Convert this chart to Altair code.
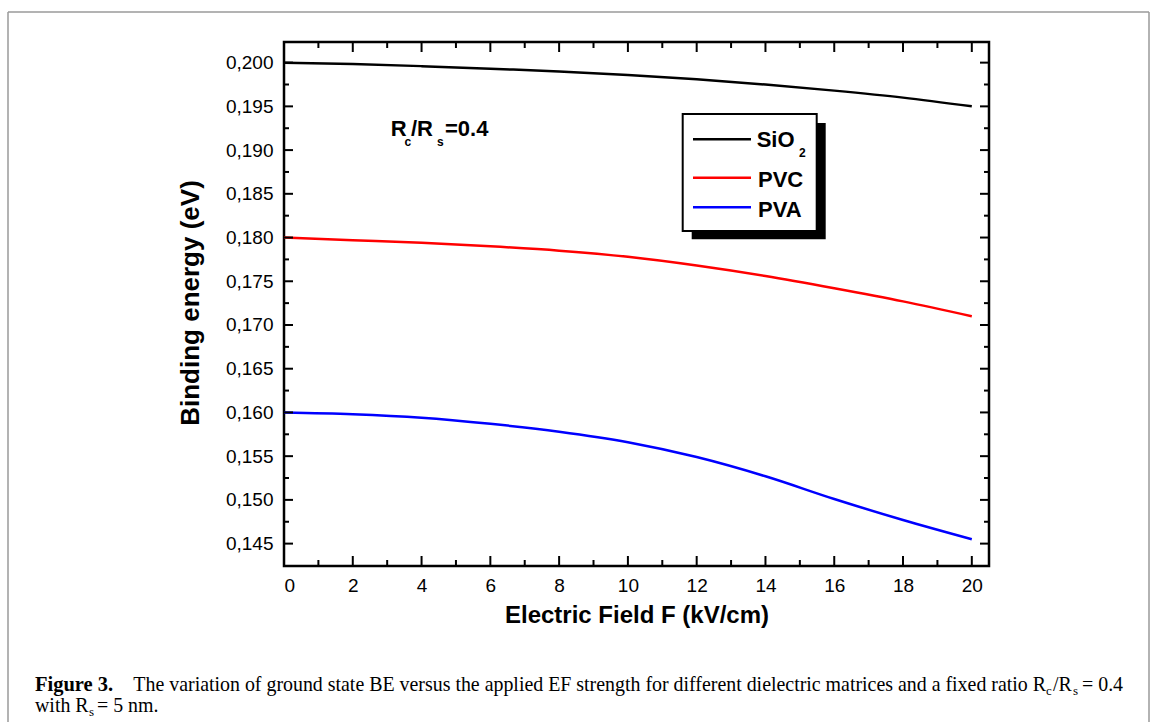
import altair as alt
import pandas as pd

# ---------------- data ----------------
field = [0, 2, 4, 6, 8, 10, 12, 14, 16, 18, 20]
sio2 = [0.2000, 0.19985, 0.1996, 0.1993, 0.1990, 0.1986, 0.1981, 0.1975, 0.1968, 0.1960, 0.1950]
pvc = [0.1800, 0.1797, 0.1794, 0.1790, 0.1785, 0.1778, 0.1768, 0.1756, 0.1742, 0.1727, 0.1710]
pva = [0.1600, 0.1598, 0.1594, 0.1587, 0.1578, 0.1566, 0.1549, 0.1527, 0.1501, 0.1477, 0.1455]
series_names = ["SiO2", "PVC", "PVA"]
colors = ["#000000", "#ff0000", "#0000ff"]

x_major = [0, 2, 4, 6, 8, 10, 12, 14, 16, 18, 20]
x_minor = [1, 3, 5, 7, 9, 11, 13, 15, 17, 19]
y_major = [0.145, 0.150, 0.155, 0.160, 0.165, 0.170, 0.175, 0.180, 0.185, 0.190, 0.195, 0.200]
y_minor = [0.1475, 0.1525, 0.1575, 0.1625, 0.1675, 0.1725, 0.1775, 0.1825, 0.1875, 0.1925, 0.1975]

rows = []
for name, vals in zip(series_names, [sio2, pvc, pva]):
    for f, v in zip(field, vals):
        rows.append({"F": f, "BE": v, "series": name})
df = pd.DataFrame(rows)

W, H = 705, 524
OX, OY = 284, 42
SANS = "Liberation Sans"
SERIF = "Liberation Serif"

xscale = alt.Scale(domain=[0, 20.5], nice=False, zero=False)
yscale = alt.Scale(domain=[0.14244, 0.20236], nice=False, zero=False)

xaxis = alt.Axis(
    values=x_major, format="d", title=None, grid=False, domain=False,
    ticks=False, tickSize=0, labelPadding=10, labelFont=SANS,
    labelFontSize=19, labelColor="black")
yaxis = alt.Axis(
    values=y_major, labelExpr="replace(format(datum.value, '.3f'), '.', ',')",
    title=None, grid=False, domain=False, ticks=False, tickSize=0,
    labelPadding=11, labelFont=SANS, labelFontSize=19, labelColor="black")

lines = alt.Chart(df).mark_line(strokeWidth=2.5, interpolate="monotone").encode(
    x=alt.X("F:Q", scale=xscale, axis=xaxis),
    y=alt.Y("BE:Q", scale=yscale, axis=yaxis),
    color=alt.Color("series:N", scale=alt.Scale(domain=series_names, range=colors), legend=None),
)

def yticks(vals, length, right=False):
    d = pd.DataFrame({"BE": vals})
    if right:
        xa, xb = W - length, W
    else:
        xa, xb = 0, length
    return alt.Chart(d).mark_rule(color="black", strokeWidth=2).encode(
        y=alt.Y("BE:Q", scale=yscale, axis=yaxis), x=alt.value(xa), x2=alt.value(xb))

def xticks(vals, length, top=False):
    d = pd.DataFrame({"F": vals})
    if top:
        ya, yb = 0, length
    else:
        ya, yb = H - length, H
    return alt.Chart(d).mark_rule(color="black", strokeWidth=2).encode(
        x=alt.X("F:Q", scale=xscale, axis=xaxis), y=alt.value(ya), y2=alt.value(yb))

one = pd.DataFrame({"k": [0]})

def txt(s, x, y, size, weight="bold", font=SANS, align="left", angle=0):
    return alt.Chart(one).mark_text(
        text=s, fontSize=size, fontWeight=weight, font=font, align=align,
        baseline="alphabetic", color="black", angle=angle).encode(
        x=alt.value(x - OX), y=alt.value(y - OY))

def rule(x1, y1, x2, y2, color="black", width=2):
    return alt.Chart(one).mark_rule(color=color, strokeWidth=width).encode(
        x=alt.value(x1 - OX), y=alt.value(y1 - OY), x2=alt.value(x2 - OX), y2=alt.value(y2 - OY))

def box(x1, y1, x2, y2, fill, stroke=None):
    kw = {"fill": fill}
    if stroke:
        kw.update(stroke=stroke, strokeWidth=2)
    return alt.Chart(one).mark_rect(**kw).encode(
        x=alt.value(x1 - OX), y=alt.value(y1 - OY), x2=alt.value(x2 - OX), y2=alt.value(y2 - OY))

layers = [
    # outer figure border
    rule(8, 12, 1149, 12, color="#9a9a9a", width=1.5),
    rule(8, 12, 8, 722, color="#9a9a9a", width=1.5),
    rule(1149, 12, 1149, 722, color="#9a9a9a", width=1.5),
    lines,
    yticks(y_major, 9), yticks(y_minor, 5),
    yticks(y_major, 9, right=True), yticks(y_minor, 5, right=True),
    xticks(x_major, 10), xticks(x_minor, 6),
    xticks(x_major, 10, top=True), xticks(x_minor, 6, top=True),
    # axis titles
    txt("Electric Field F (kV/cm)", 637, 623, 24, align="center"),
    txt("Binding energy (eV)", 199, 303, 26, align="center", angle=270),
    # annotation Rc/Rs=0.4
    txt("R", 390.7, 136, 22), txt("c", 404.5, 146, 12),
    txt("/R", 411, 136, 22), txt("s", 437, 146, 12),
    txt("=0.4", 445, 136, 22),
    # legend
    box(691.7, 123, 825.7, 239.3, "black"),
    box(682.7, 114, 816.7, 231, "white", stroke="black"),
    rule(693, 139.3, 751, 139.3, color=colors[0], width=2.5),
    rule(693, 177.7, 751, 177.7, color=colors[1], width=2.5),
    rule(693, 207.3, 751, 207.3, color=colors[2], width=2.5),
    txt("SiO", 756.7, 146.7, 22), txt("2", 799, 157, 12),
    txt("PVC", 758, 187.3, 22), txt("PVA", 758, 216.7, 22),
    # caption
    txt("Figure 3.", 35, 691, 20.5, font=SERIF),
    txt("The variation of ground state BE versus the applied EF strength for different dielectric matrices and a fixed ratio R",
        1046, 691, 19.9, weight="normal", font=SERIF, align="right"),
    txt("c", 1046, 695, 13, weight="normal", font=SERIF),
    txt("/R", 1053, 691, 19.9, weight="normal", font=SERIF),
    txt("s", 1073, 695, 13, weight="normal", font=SERIF),
    txt("= 0.4", 1082, 691, 19.9, weight="normal", font=SERIF),
    txt("with R", 35, 712, 19.9, weight="normal", font=SERIF),
    txt("s", 89, 716, 13, weight="normal", font=SERIF),
    txt("= 5 nm.", 97, 712, 19.9, weight="normal", font=SERIF),
]

chart = alt.layer(*layers).properties(
    width=W, height=H,
    autosize=alt.AutoSizeParams(type="none"),
    padding={"left": OX, "top": OY, "right": 1152 - OX - W, "bottom": 722 - OY - H},
    background="white",
).configure_view(stroke="black", strokeWidth=2.5)

chart.save("out.html", embed_options={"renderer": "svg", "actions": False})
